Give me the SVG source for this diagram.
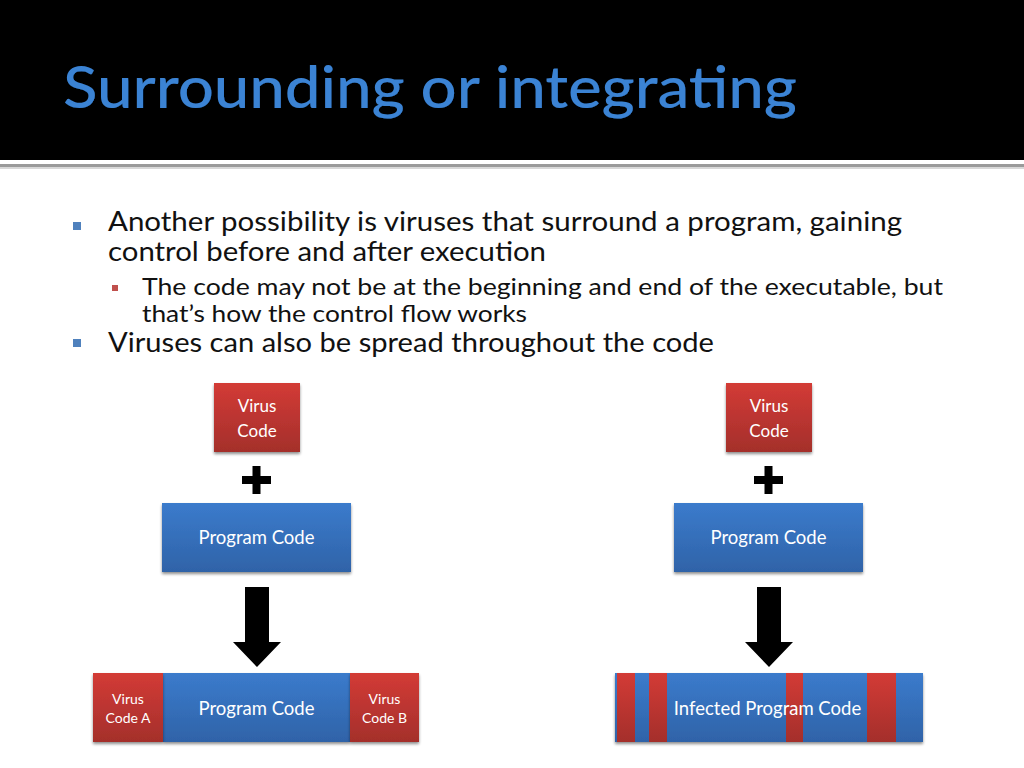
<svg xmlns="http://www.w3.org/2000/svg" width="1024" height="768" viewBox="0 0 1024 768">
<defs>
<linearGradient id="gRed" x1="0" y1="0" x2="0" y2="1">
<stop offset="0" stop-color="#d33b36"/>
<stop offset="1" stop-color="#a42f2b"/>
</linearGradient>
<linearGradient id="gBlue" x1="0" y1="0" x2="0" y2="1">
<stop offset="0" stop-color="#3b7bcc"/>
<stop offset="1" stop-color="#2f63a8"/>
</linearGradient>
<filter id="sh" x="-10%" y="-10%" width="120%" height="130%">
<feGaussianBlur in="SourceAlpha" stdDeviation="1.5"/>
<feOffset dx="0" dy="2" result="b"/>
<feComponentTransfer><feFuncA type="linear" slope="0.45"/></feComponentTransfer>
<feMerge><feMergeNode/><feMergeNode in="SourceGraphic"/></feMerge>
</filter>
<filter id="tsh" x="-5%" y="-20%" width="110%" height="140%">
<feGaussianBlur in="SourceAlpha" stdDeviation="1"/>
<feOffset dx="2" dy="2"/>
<feComponentTransfer><feFuncA type="linear" slope="0.8"/></feComponentTransfer>
<feMerge><feMergeNode/><feMergeNode in="SourceGraphic"/></feMerge>
</filter>
</defs>
<style>
.body{font-family:Lato,"Open Sans","Liberation Sans",sans-serif;fill:#111;}
.lbl{font-family:Lato,"Open Sans","Liberation Sans",sans-serif;fill:#fff;text-anchor:middle;}
.red{fill:url(#gRed);}
.blue{fill:url(#gBlue);}
</style>
<rect width="1024" height="768" fill="#ffffff"/>
<rect x="0" y="0" width="1024" height="160" fill="#000"/>
<rect x="0" y="164" width="1024" height="3" fill="#9a9a9a"/>
<rect x="0" y="167" width="1024" height="2" fill="#d8d8d8"/>
<text x="63" y="108" font-family="Lato,'Open Sans','Liberation Sans',sans-serif" font-size="58" font-weight="500" fill="#3b83d4" textLength="734" lengthAdjust="spacingAndGlyphs" filter="url(#tsh)">Surrounding or integrating</text>

<g id="bullets">
<rect x="73" y="222" width="8" height="8" fill="#4f81bd"/>
<text class="body" x="108" y="231" font-size="27" textLength="794" lengthAdjust="spacingAndGlyphs">Another possibility is viruses that surround a program, gaining</text>
<text class="body" x="108" y="261" font-size="27" textLength="438" lengthAdjust="spacingAndGlyphs">control before and after execution</text>
<rect x="112" y="285" width="6" height="6" fill="#c0504d"/>
<text class="body" x="142" y="295" font-size="24" textLength="801" lengthAdjust="spacingAndGlyphs">The code may not be at the beginning and end of the executable, but</text>
<text class="body" x="142" y="322" font-size="24" textLength="385" lengthAdjust="spacingAndGlyphs">that’s how the control flow works</text>
<rect x="73" y="339" width="8" height="8" fill="#4f81bd"/>
<text class="body" x="108" y="352" font-size="27" textLength="606" lengthAdjust="spacingAndGlyphs">Viruses can also be spread throughout the code</text>
</g>

<g id="left-virus">
<rect class="red" x="214" y="383" width="86" height="69" filter="url(#sh)"/>
<text class="lbl" x="257" y="412" font-size="17">Virus</text>
<text class="lbl" x="257" y="437" font-size="17">Code</text>
</g>
<g id="left-plus">
<rect x="242" y="476" width="29" height="8" fill="#000"/>
<rect x="252.5" y="466" width="8" height="28" fill="#000"/>
</g>
<g id="left-program">
<rect class="blue" x="162" y="503" width="189" height="69" filter="url(#sh)"/>
<text class="lbl" x="256.5" y="544" font-size="18.5">Program Code</text>
</g>
<g id="left-result">
<rect class="blue" x="163" y="673" width="187" height="69" filter="url(#sh)"/>
<rect class="red" x="93" y="673" width="70" height="69" filter="url(#sh)"/>
<rect class="red" x="350" y="673" width="69" height="69" filter="url(#sh)"/>
<text class="lbl" x="256.5" y="715" font-size="18.5">Program Code</text>
<text class="lbl" x="128" y="704" font-size="14">Virus</text>
<text class="lbl" x="128" y="723" font-size="14">Code A</text>
<text class="lbl" x="384.5" y="704" font-size="14">Virus</text>
<text class="lbl" x="384.5" y="723" font-size="14">Code B</text>
</g>

<g id="right-virus">
<rect class="red" x="726" y="383" width="86" height="69" filter="url(#sh)"/>
<text class="lbl" x="769" y="412" font-size="17">Virus</text>
<text class="lbl" x="769" y="437" font-size="17">Code</text>
</g>
<g id="right-plus">
<rect x="754" y="476" width="29" height="8" fill="#000"/>
<rect x="764.5" y="466" width="8" height="28" fill="#000"/>
</g>
<g id="right-program">
<rect class="blue" x="674" y="503" width="189" height="69" filter="url(#sh)"/>
<text class="lbl" x="768.5" y="544" font-size="18.5">Program Code</text>
</g>
<g id="right-result">
<rect class="blue" x="615" y="673" width="308" height="69" filter="url(#sh)"/>
<rect class="red" x="617" y="673" width="18" height="69"/>
<rect class="red" x="649" y="673" width="18" height="69"/>
<rect class="red" x="786" y="673" width="17" height="69"/>
<rect class="red" x="867" y="673" width="29" height="69"/>
<text class="lbl" x="767.5" y="715" font-size="18.5">Infected Program Code</text>
</g>

<g id="connectors">
<polygon points="245,587 269,587 269,642 281,642 257,667 233,642 245,642" fill="#000"/>
<polygon points="757,587 781,587 781,642 793,642 769,667 745,642 757,642" fill="#000"/>
</g>
</svg>
